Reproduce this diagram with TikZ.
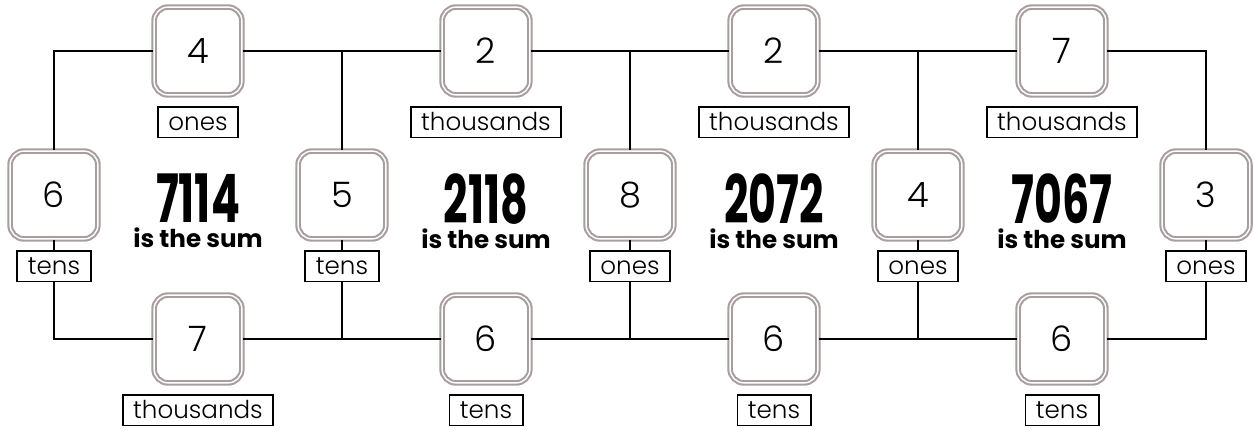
\documentclass[tikz,border=0pt]{standalone}
\usepackage{graphicx}
\usepackage{fontspec}
\setmainfont{Poppins}
\newfontfamily\thinfont{Poppins Light}
\usepackage{tikz}

\definecolor{boxgrey}{RGB}{168,158,158}
\newcommand{\bigsum}[1]{{\fontsize{38}{38}\selectfont\scalebox{0.64}[1]{#1}}}
\tikzset{
  digitbox/.style={draw=boxgrey, double=white, double distance=0.8pt, line width=1.2pt,
    fill=white, rounded corners=8pt, minimum size=50pt, inner sep=0pt,
    font=\thinfont\fontsize{20}{20}\selectfont},
  placebox/.style={draw, line width=1pt, minimum height=17.5pt, inner xsep=6pt, inner ysep=0pt,
    text height=10pt, text depth=0pt, font=\thinfont\fontsize{14}{14}\selectfont},
  sumtext/.style={inner sep=0pt, align=center, font=\bfseries\fontsize{14}{14}\selectfont}
}

\begin{document}
\begin{tikzpicture}[x=0.02cm, y=-0.02cm, line width=1.1pt]
\useasboundingbox (0,0) rectangle (1254,430);

% side boxes with their place names
\foreach \i/\x/\v/\p in {1/54/6/tens, 2/342/5/tens, 3/630/8/ones, 4/918/4/ones, 5/1206/3/ones} {
    \node [digitbox] (s\i) at (\x,195) {\v};
    \node [placebox] (sl\i) at (\x,266) {\p};
}

% top and bottom boxes, sums in the middle
\foreach \i/\x/\tv/\tp/\bv/\bp/\s in {1/198/4/ones/7/thousands/7114,
        2/486/2/thousands/6/tens/2118, 3/774/2/thousands/6/tens/2072,
        4/1062/7/thousands/6/tens/7067} {
    \node [digitbox] (t\i) at (\x,51) {\tv};
    \node [placebox] (tl\i) at (\x,122) {\tp};
    \node [digitbox] (b\i) at (\x,339) {\bv};
    \node [placebox] (bl\i) at (\x,410) {\bp};
    \node [sumtext] (sum\i) at (\x,211) {\bigsum{\s}\\is the sum};
}

% top line
\draw (s1.north) |- (t1.west);
\draw (t1.east) -- (t2.west) (t2.east) -- (t3.west) (t3.east) -- (t4.west);
\draw (t4.east) -| (s5.north);
\foreach \i in {2,3,4}
    \draw (s\i.north) -- (s\i |- t1);

% side boxes down to their names
\foreach \i in {1,...,5}
    \draw (s\i.south) -- (sl\i.north);

% bottom line
\draw (sl1.south) |- (b1.west);
\draw (b1.east) -- (b2.west) (b2.east) -- (b3.west) (b3.east) -- (b4.west);
\draw (b4.east) -| (sl5.south);
\foreach \i in {2,3,4}
    \draw (sl\i.south) -- (sl\i |- b1);

\end{tikzpicture}
\end{document}
